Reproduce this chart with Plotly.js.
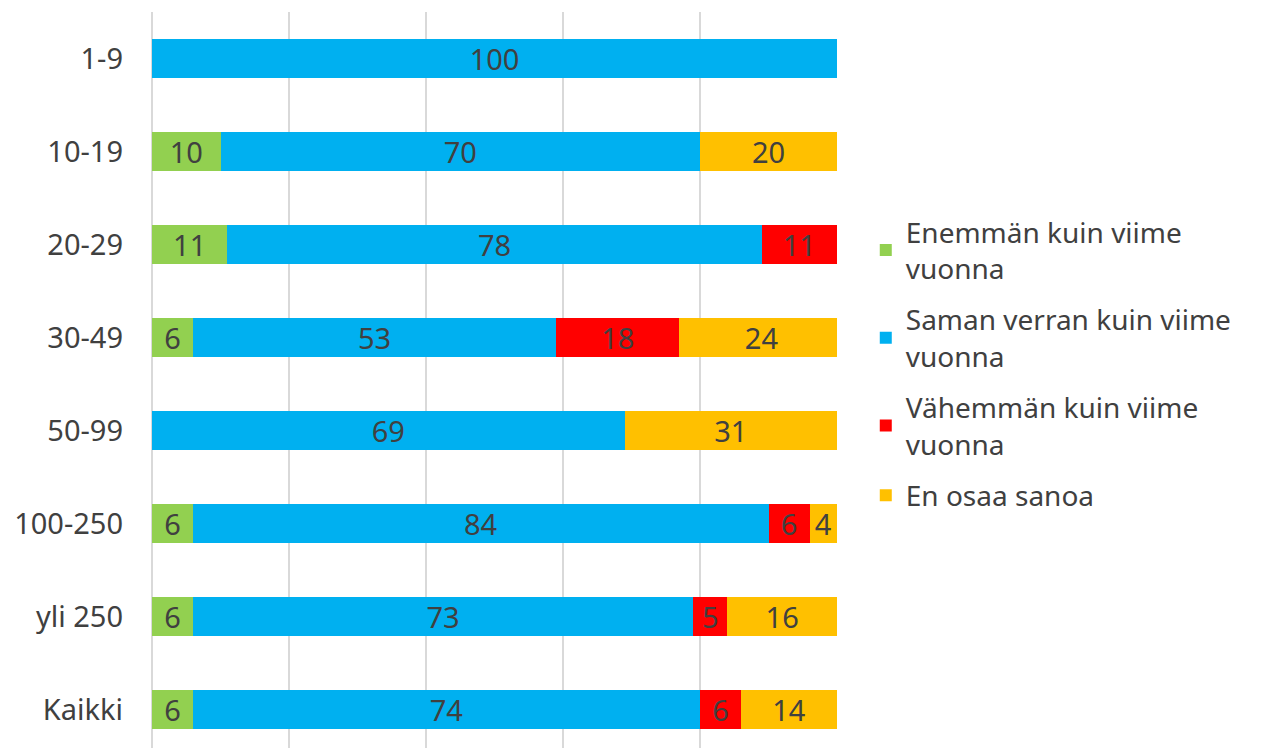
<!DOCTYPE html>
<html><head><meta charset="utf-8">
<script src="https://cdn.plot.ly/plotly-3.0.1.min.js"></script>
<style>body{margin:0;padding:0;background:#fff}#chart{width:1263px;height:748px}</style>
</head><body><div id="chart"></div>
<script>
const categories = ["1-9","10-19","20-29","30-49","50-99","100-250","yli 250","Kaikki"];
const seriesNames = ["Enemmän kuin viime<br>vuonna","Saman verran kuin viime<br>vuonna","Vähemmän kuin viime<br>vuonna","En osaa sanoa"];
const enemman = [null,10,11,6,null,6,6,6];
const saman = [100,70,78,53,69,84,73,74];
const vahemman = [null,null,11,18,null,6,5,6];
const enOsaa = [null,20,null,24,31,4,16,14];
const colors = ["#92d050","#00b0f0","#ff0000","#ffc000"];
const FONT = "Noto Sans, Open Sans, sans-serif";
const series = [enemman, saman, vahemman, enOsaa];
const traces = series.map((vals,i)=>({
  type:"bar", orientation:"h", name:seriesNames[i], legendgroup:"g"+i, y:categories, x:vals,
  marker:{color:colors[i], line:{width:0}},
  text: vals.map(v=>v==null?"":String(v)), textposition:"inside", insidetextanchor:"middle",
  textangle:0, textfont:{family:FONT,size:29,color:"#404040"}, constraintext:"none",
  hoverinfo:"x+name"
}));
const layout = {
  width:1263, height:748, barmode:"stack", bargap:0.59,
  margin:{l:152,r:426,t:12,b:0},
  paper_bgcolor:"#ffffff", plot_bgcolor:"rgba(0,0,0,0)",
  font:{family:FONT,size:29,color:"#404040"},
  xaxis:{range:[0,100], dtick:20, showticklabels:false, showgrid:true, gridcolor:"#d9d9d9", gridwidth:2,
         zeroline:true, zerolinecolor:"#d9d9d9", zerolinewidth:2, showline:false, fixedrange:true},
  yaxis:{type:"category", range:[7.414,-0.5], showgrid:false, zeroline:false, showline:false,
         ticks:"", ticklabelstandoff:28, tickfont:{family:FONT,size:29,color:"#404040"}},
  legend:{x:1.042, xanchor:"left", y:0.735, yanchor:"top", traceorder:"grouped", tracegroupgap:12,
          font:{family:FONT,size:28,color:"#404040"}, bgcolor:"rgba(0,0,0,0)", itemwidth:30},
  showlegend:true
};
Plotly.newPlot("chart", traces, layout, {displayModeBar:false, staticPlot:true});
</script></body></html>
